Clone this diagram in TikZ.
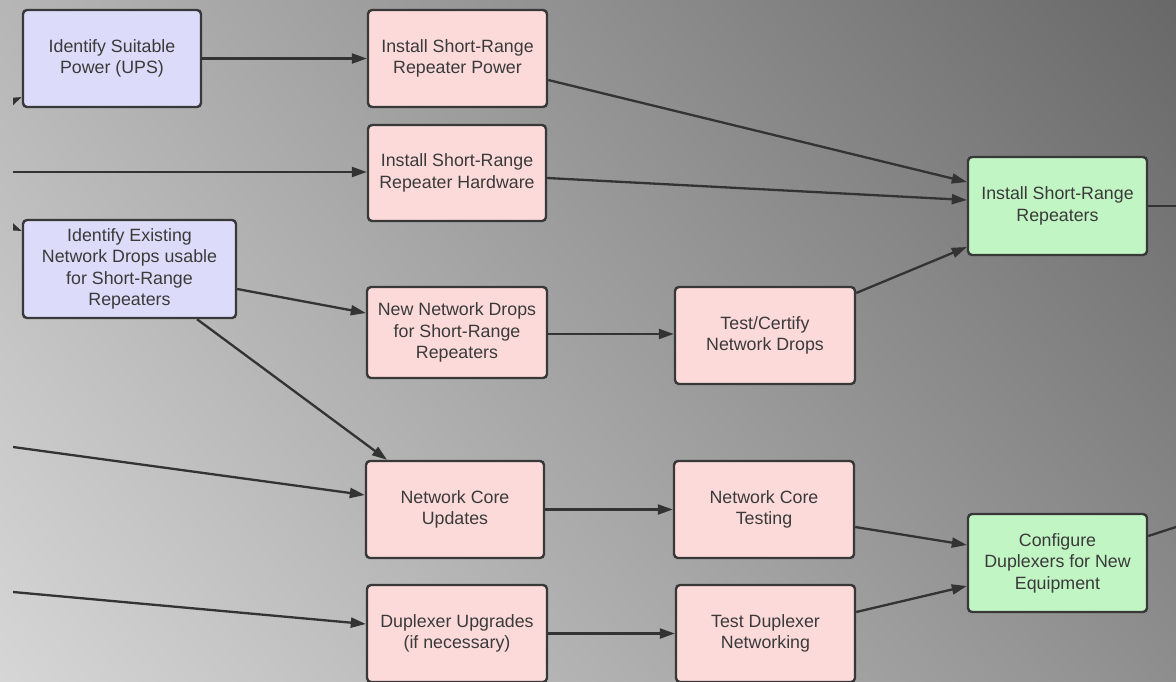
\documentclass[tikz,border=0pt]{standalone}
\usepackage{fontspec}
\setmainfont{Liberation Sans}
\usetikzlibrary{arrows.meta,shadings}

\definecolor{bgUL}{HTML}{B6B6B6}
\definecolor{bgUR}{HTML}{686868}
\definecolor{bgLL}{HTML}{D6D6D6}
\definecolor{bgLR}{HTML}{8E8E8E}
\definecolor{idfill}{HTML}{DCDCFA}
\definecolor{workfill}{HTML}{FDDADA}
\definecolor{donefill}{HTML}{C2F5C4}
\definecolor{boxline}{HTML}{383838}
\definecolor{txt}{HTML}{3A3A3A}
\definecolor{wire}{HTML}{333333}

\tikzset{
  task/.style={draw=boxline, line width=2.4pt, rounded corners=4pt,
    align=center, text=txt, inner sep=0pt,
    font=\fontsize{17.8}{21.5}\selectfont},
  identbox/.style={task, fill=idfill},
  workbox/.style={task, fill=workfill},
  donebox/.style={task, fill=donefill},
  wireline/.style={draw=wire, line width=2.3pt},
  link/.style={wireline, -{Triangle[length=15pt,width=10pt]}},
}

\begin{document}
\begin{tikzpicture}[x=1pt,y=-1pt]
  % backdrop
  \shade[upper left=bgUL, upper right=bgUR, lower left=bgLL, lower right=bgLR]
    (0,0) rectangle (1176,681);
  \useasboundingbox (0,0) rectangle (1176,681);

  % identification steps
  \node[identbox, minimum width=178pt, minimum height=97pt] (ups) at (112,58.5)
    {Identify Suitable\\Power (UPS)};
  \node[identbox, minimum width=213pt, minimum height=98pt] (ident) at (129.5,269)
    {Identify Existing\\Network Drops usable\\for Short-Range\\Repeaters};

  % work steps
  \node[workbox, minimum width=179pt, minimum height=97pt] (rpow) at (457.5,58.5)
    {Install Short-Range\\Repeater Power};
  \node[workbox, minimum width=178pt, minimum height=96pt] (rhw) at (457,173)
    {Install Short-Range\\Repeater Hardware};
  \node[workbox, minimum width=180pt, minimum height=91pt] (newdrops) at (457,332.5)
    {New Network Drops\\for Short-Range\\Repeaters};
  \node[workbox, minimum width=180pt, minimum height=97pt] (certify) at (765,335.5)
    {Test/Certify\\Network Drops};
  \node[workbox, minimum width=178pt, minimum height=97pt] (coreupd) at (455,509.5)
    {Network Core\\Updates};
  \node[workbox, minimum width=180pt, minimum height=97pt] (coretest) at (764,509.5)
    {Network Core\\Testing};
  \node[workbox, minimum width=180pt, minimum height=97pt] (dupupg) at (457,633.5)
    {Duplexer Upgrades\\(if necessary)};
  \node[workbox, minimum width=179pt, minimum height=97pt] (testdup) at (765.5,633.5)
    {Test Duplexer\\Networking};

  % milestones
  \node[donebox, minimum width=179pt, minimum height=98pt] (srr) at (1057.5,206)
    {Install Short-Range\\Repeaters};
  \node[donebox, minimum width=179pt, minimum height=98pt] (config) at (1057.5,563)
    {Configure\\Duplexers for New\\Equipment};

  % loose ends of links that run off the sheet
  \coordinate (inUps)  at (-10,111);
  \coordinate (inIdent) at (-10,218);
  \coordinate (inHw)   at (13,172);
  \coordinate (inCore) at (13,447);
  \coordinate (inDup)  at (13,592);
  \coordinate (outSrr) at (1176,206);
  \coordinate (outCfg) at (1176,527);

  \begin{scope}
    \clip (13,0) rectangle (1176,681);
    \draw[link] (inUps) -- ([yshift=-38.5pt]ups.west);
    \draw[link] (inIdent) -- ([yshift=38pt]ident.west);
    \draw[link] (inHw) -- (inHw -| rhw.west);
    \draw[link] (inCore) -- ([yshift=14.5pt]coreupd.west);
    \draw[link] (inDup) -- ([yshift=9.5pt]dupupg.west);

    \draw[link] (ups.east) -- (rpow.west);
    \draw[link] ([yshift=-21.5pt]rpow.east) -- ([yshift=24pt]srr.west);
    \draw[link] ([yshift=-5pt]rhw.east) -- ([yshift=6pt]srr.west);
    \draw[link] ([yshift=42.5pt]certify.east) -- ([yshift=-41pt]srr.west);
    \draw[link] ([yshift=-20pt]ident.east) -- ([yshift=19.5pt]newdrops.west);
    \draw[link] ([xshift=67.5pt]ident.south) -- ([xshift=-68pt]coreupd.north);
    \draw[link] ([yshift=-1.5pt]newdrops.east) -- ([yshift=-1.5pt]newdrops.east -| certify.west);
    \draw[link] (coreupd.east) -- (coretest.west);
    \draw[link] (dupupg.east) -- (testdup.west);
    \draw[link] ([yshift=-17.5pt]coretest.east) -- ([yshift=18pt]config.west);
    \draw[link] ([yshift=21.5pt]testdup.east) -- ([yshift=-23pt]config.west);

    \draw[wireline] (srr.east) -- (outSrr);
    \draw[wireline] ([yshift=27pt]config.east) -- (outCfg);
  \end{scope}
\end{tikzpicture}
\end{document}
